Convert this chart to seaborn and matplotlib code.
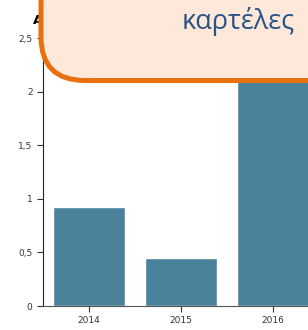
import matplotlib
matplotlib.use("Agg")
import matplotlib.pyplot as plt
import seaborn as sns
import pandas as pd
from matplotlib.patches import FancyBboxPatch
from matplotlib.transforms import IdentityTransform
from matplotlib.ticker import FuncFormatter

years = ["2014", "2015", "2016"]
values = [0.92, 0.45, 2.35]
yticks = [0, 0.5, 1, 1.5, 2, 2.5]

df = pd.DataFrame({"year": years, "value": values})

sns.set_style("white")
plt.rcParams['font.family'] = ['DejaVu Sans']

fig = plt.figure(figsize=(3.08, 3.30), dpi=100)
ax = fig.add_axes([43/308, 24/330, 276/308, 278.7/330])

sns.barplot(data=df, x="year", y="value", color="#4a829b", width=0.78,
            saturation=1, ax=ax)
ax.set_xlim(-0.5, 2.5)
ax.set_ylim(0, 2.6)
ax.set_yticks(yticks)
ax.yaxis.set_major_formatter(FuncFormatter(lambda v, p: f"{v:g}".replace(".", ",")))
ax.set_xlabel("")
ax.set_ylabel("")
for s in ["top", "right"]:
    ax.spines[s].set_visible(False)
ax.spines["left"].set_color("#222222")
ax.spines["bottom"].set_color("#555555")
ax.tick_params(axis="both", labelsize=6.5, colors="#333333", length=4,
               width=0.8, direction="out", left=True, bottom=True)

# partly hidden title
fig.text(33/308, 306/330, "Αριθμός", fontsize=9.5, fontweight="bold",
         color="black", zorder=1)

# callout box
box = FancyBboxPatch((41, 249.5), 320, 120,
                     boxstyle="round,pad=0,rounding_size=44",
                     transform=IdentityTransform(), facecolor="#fde8da",
                     edgecolor="#e8700f", linewidth=3.6, zorder=10)
fig.patches.append(box)
fig.text(238/308, 308/330, "καρτέλες", fontsize=19.5, color="#2a5488",
         family="Open Sans", ha="center", va="center", zorder=11)

fig.savefig("out.png", dpi=100)
